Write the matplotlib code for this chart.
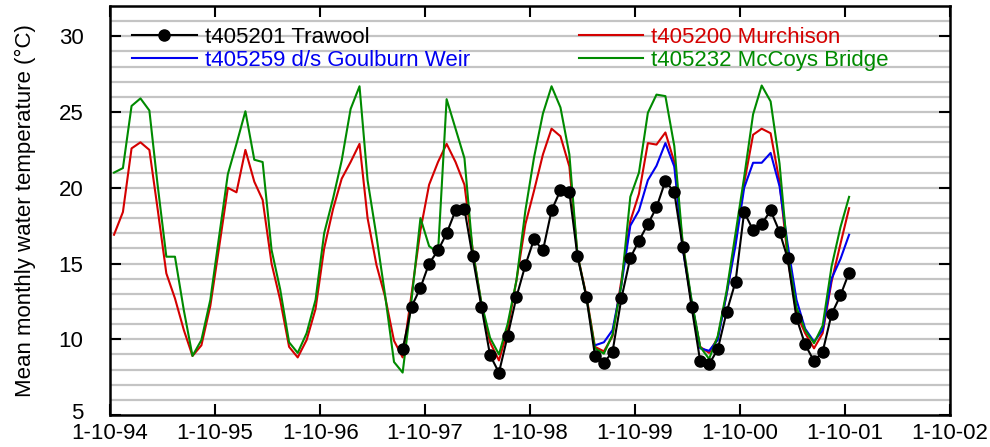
import numpy as np
import pandas as pd
import matplotlib
matplotlib.use('Agg')
from matplotlib import pyplot as plt
from matplotlib.lines import Line2D
from matplotlib.transforms import ScaledTranslation

plt.rcParams['font.family'] = ['Liberation Sans', 'DejaVu Sans']

# monthly means, first value is October 1994 (plotted mid-month)
months = pd.date_range('1994-10-01', periods=85, freq='MS') + pd.Timedelta(days=14)

murchison = [
    16.9, 18.4, 22.6, 23.0, 22.5, 18.7, 14.35, 12.7, 10.6, 8.9, 9.6, 12.2,
    16.0, 20.0, 19.7, 22.5, 20.4, 19.2, 15.0, 12.6, 9.5, 8.8, 9.95, 12.0,
    16.0, 18.6, 20.6, 21.7, 22.9, 18.0, 14.9, 12.8, 9.9, 8.8, 13.0, 17.2,
    20.2, 21.7, 22.9, 21.7, 20.2, 16.0, 12.3, 9.8, 8.6, 10.6, 13.9, 17.6,
    19.8, 22.2, 23.9, 23.4, 21.4, 15.6, 12.9, 9.5, 9.2, 10.2, 13.9, 17.8,
    19.6, 22.95, 22.85, 23.65, 21.7, 16.3, 12.4, 9.5, 9.1, 10.1, 13.0, 16.5,
    20.3, 23.5, 23.9, 23.6, 20.4, 15.4, 11.7, 10.4, 9.4, 10.4, 13.8, 16.3,
    18.65]

mccoys = [
    21.0, 21.3, 25.4, 25.9, 25.1, 20.3, 15.45, 15.45, 11.9, 8.9, 9.95, 12.6,
    16.7, 20.9, 22.9, 25.05, 21.85, 21.7, 15.9, 13.3, 9.8, 9.1, 10.4, 12.6,
    17.0, 19.3, 21.8, 25.2, 26.7, 20.5, 16.8, 12.9, 8.5, 7.8, 12.6, 18.0,
    16.15, 15.7, 25.85, 23.9, 21.95, 15.9, 12.4, 10.1, 9.0, 11.0, 13.9, 18.5,
    22.0, 24.9, 26.7, 25.3, 22.2, 15.6, 12.8, 9.4, 9.05, 10.3, 13.6, 19.4,
    21.0, 24.95, 26.15, 26.05, 22.75, 16.4, 12.6, 9.5, 8.7, 10.2, 13.2, 17.0,
    20.7, 24.85, 26.75, 25.7, 21.6, 15.7, 12.1, 10.6, 9.74, 10.9, 14.8, 17.4,
    19.4]

# d/s Goulburn Weir starts May 1999
weir_start = 55
weir = [
    9.6, 9.8, 10.6, 13.6, 17.5,
    18.5, 20.5, 21.45, 22.95, 21.4, 16.0, 12.5, 9.4, 9.24, 9.95, 13.0, 16.2,
    20.0, 21.65, 21.65, 22.3, 20.1, 16.3, 12.6, 10.7, 9.84, 10.6, 14.0, 15.3,
    16.9]

# Trawool starts July 1997
trawool_start = 33
trawool = [
    9.33, 12.15, 13.4,
    15.0, 15.86, 16.99, 18.5, 18.6, 15.5, 12.15, 8.95, 7.8, 10.2, 12.8, 14.9,
    16.6, 15.86, 18.5, 19.84, 19.7, 15.5, 12.8, 8.92, 8.44, 9.17, 12.7, 15.38,
    16.5, 17.6, 18.7, 20.45, 19.7, 16.1, 12.15, 8.55, 8.36, 9.33, 11.8, 13.8,
    18.4, 17.2, 17.6, 18.5, 17.1, 15.35, 11.4, 9.66, 8.55, 9.17, 11.65, 12.9,
    14.4]

year_ticks = pd.to_datetime(['1994-10-01', '1995-10-01', '1996-10-01', '1997-10-01',
                             '1998-10-01', '1999-10-01', '2000-10-01', '2001-10-01',
                             '2002-10-01'])
year_labels = ['1-10-94', '1-10-95', '1-10-96', '1-10-97', '1-10-98',
               '1-10-99', '1-10-00', '1-10-01', '1-10-02']

c_red = '#d40000'
c_blue = '#0000f0'
c_green = '#008a00'

fig = plt.figure(figsize=(9.9, 4.47), dpi=100)
ax = fig.add_axes([0.1111, 0.0716, 0.8485, 0.915])

for t in range(6, 32):
    ax.axhline(t, color='#c4c4c4', lw=1.6, zorder=0)

ax.plot(months, murchison, color=c_red, lw=1.5, zorder=2)
ax.plot(months[weir_start:], weir, color=c_blue, lw=1.5, zorder=3)
ax.plot(months, mccoys, color=c_green, lw=1.5, zorder=4)
ax.plot(months[trawool_start:], trawool, color='black', lw=1.5,
        marker='o', ms=8, zorder=5)

ax.set_xlim(year_ticks[0], year_ticks[-1])
ax.set_ylim(5, 32)
ax.set_xticks(year_ticks)
ax.set_xticklabels(year_labels)
ax.set_yticks([5, 10, 15, 20, 25, 30])
ax.tick_params(direction='in', length=8, width=1.5, labelsize=16,
               top=True, right=True)
ax.tick_params(axis='y', pad=19)
ax.tick_params(axis='x', pad=6)
for s in ax.spines.values():
    s.set_linewidth(1.8)

# the bottom "5" sits a little above the axis line in the original
lab5 = ax.yaxis.get_major_ticks()[0].label1
lab5.set_transform(lab5.get_transform() + ScaledTranslation(0, 3 / 72, fig.dpi_scale_trans))

ax.set_ylabel('Mean monthly water temperature (°C)', fontsize=16)
ax.yaxis.set_label_coords(-0.088, 0.5)

handles = [
    Line2D([0, 1], [0, 0], color='black', lw=1.5, marker='o', ms=8),
    Line2D([0, 1], [0, 0], color=c_blue, lw=1.5),
    Line2D([0, 1], [0, 0], color=c_red, lw=1.5),
    Line2D([0, 1], [0, 0], color=c_green, lw=1.5),
]
labels = ['t405201 Trawool', 't405259 d/s Goulburn Weir',
          't405200 Murchison', 't405232 McCoys Bridge']
leg = ax.legend(handles, labels, ncol=2, frameon=False, fontsize=16,
                loc='upper left', bbox_to_anchor=(0.0, 1.004),
                handlelength=2.9, handletextpad=0.36, columnspacing=4.9,
                labelspacing=0.1, borderaxespad=0.6, numpoints=1)
for txt, col in zip(leg.get_texts(), ['black', c_blue, c_red, c_green]):
    txt.set_color(col)

fig.savefig('out.png', dpi=100)
